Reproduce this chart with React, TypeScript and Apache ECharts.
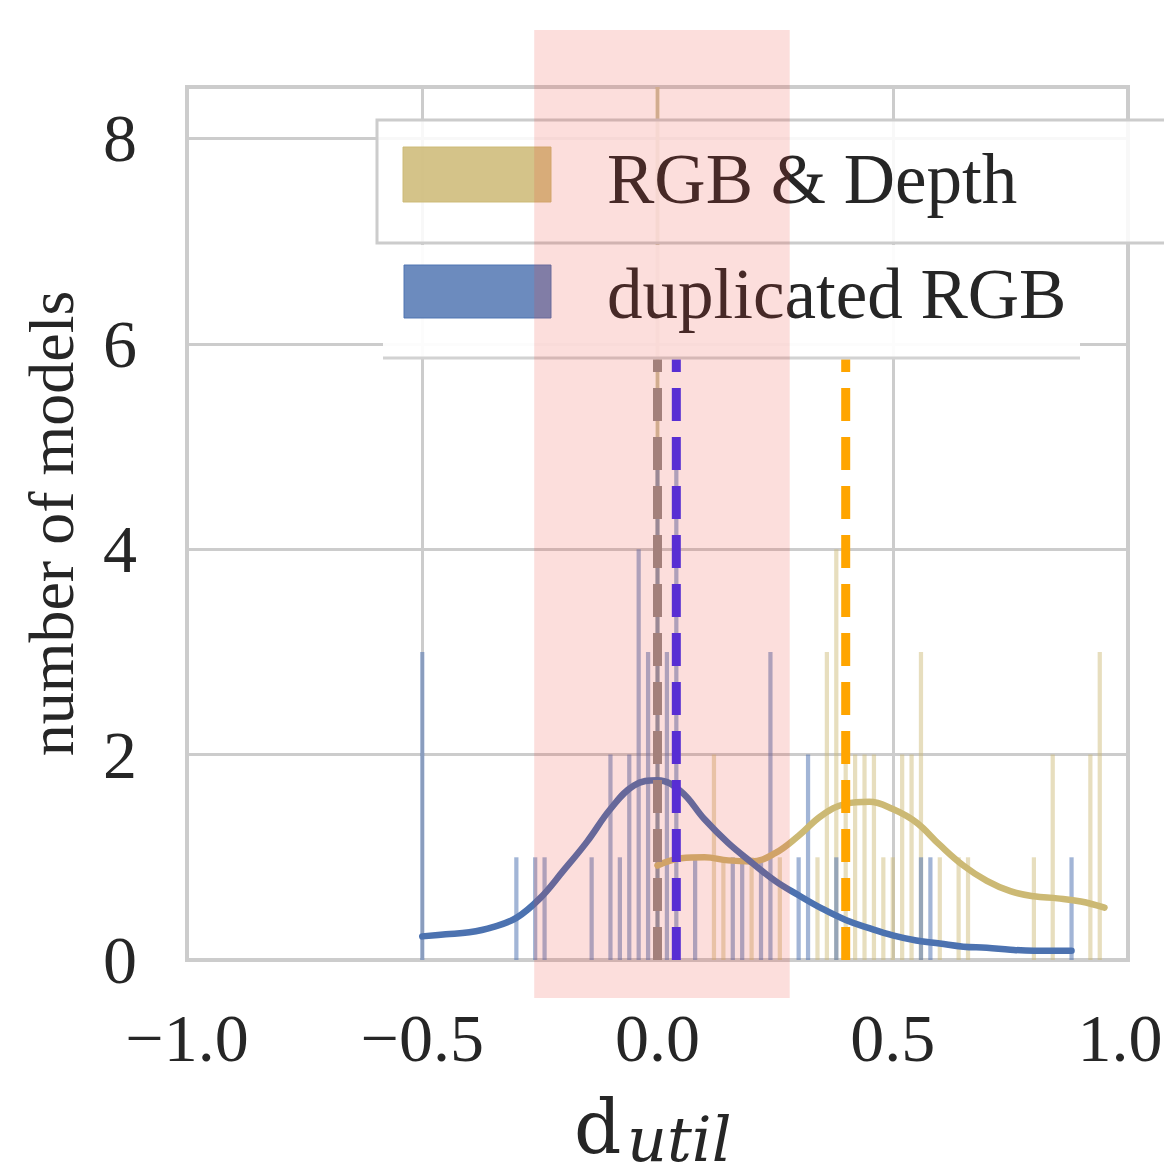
import React, { useEffect, useRef } from 'react';
import * as echarts from 'echarts';

const FONT = '"Liberation Serif", "DejaVu Serif", "Times New Roman", serif';
const MATH_FONT = '"DejaVu Serif", "Liberation Serif", serif';

// axes
const X_MIN = -1;
const X_MAX = 1;
const X_STEP = 0.5;
const Y_MIN = 0;
const Y_MAX = 8.5;
const Y_STEP = 2;

// histogram: RGB & Depth
const depthBins = [0, 0.12, 0.14, 0.2, 0.26, 0.34, 0.36, 0.38, 0.4, 0.42, 0.44, 0.46, 0.48, 0.5, 0.52, 0.54, 0.56, 0.6, 0.64, 0.66, 0.8, 0.84, 0.92, 0.94];
const depthCounts = [9, 2, 1, 1, 1, 1, 3, 4, 2, 2, 2, 2, 1, 1, 2, 2, 3, 1, 1, 1, 1, 2, 2, 3];

// histogram: duplicated RGB
const dupBins = [-0.5, -0.3, -0.26, -0.24, -0.14, -0.1, -0.08, -0.06, -0.04, -0.02, 0, 0.02, 0.04, 0.08, 0.16, 0.18, 0.22, 0.24, 0.3, 0.32, 0.38, 0.56, 0.58, 0.88];
const dupCounts = [3, 1, 1, 1, 1, 2, 1, 2, 4, 3, 5, 3, 5, 1, 1, 1, 1, 3, 1, 2, 1, 1, 1, 1];

// KDE curves
const kdeDupX = [-0.5, -0.45, -0.4, -0.35, -0.3, -0.25, -0.2, -0.15, -0.1, -0.05, 0, 0.05, 0.1, 0.15, 0.2, 0.25, 0.3, 0.35, 0.4, 0.45, 0.5, 0.55, 0.6, 0.65, 0.7, 0.75, 0.8, 0.88];
const kdeDupY = [0.23, 0.25, 0.27, 0.32, 0.41, 0.6, 0.87, 1.15, 1.47, 1.7, 1.75, 1.64, 1.37, 1.14, 0.95, 0.77, 0.63, 0.5, 0.39, 0.31, 0.24, 0.19, 0.16, 0.13, 0.12, 0.1, 0.09, 0.09];
const kdeDepthX = [0, 0.05, 0.1, 0.15, 0.2, 0.25, 0.3, 0.35, 0.4, 0.45, 0.5, 0.55, 0.6, 0.65, 0.7, 0.75, 0.8, 0.85, 0.9, 0.95];
const kdeDepthY = [0.92, 0.99, 1.0, 0.97, 0.96, 1.04, 1.21, 1.41, 1.52, 1.54, 1.47, 1.34, 1.12, 0.92, 0.77, 0.67, 0.62, 0.6, 0.57, 0.51];

// dashed reference lines
const markerX = [0.0, 0.04, 0.4];
const markerColors = ['#948e8b', '#3a2cf5', '#ffa500'];
const markerTop = 5.85;

// shaded band
const shadedRange = [-0.262, 0.281];

const legendNames = ['RGB & Depth', 'duplicated RGB'];
const BAR_WIDTH = 0.009;

const zip = (xs: number[], ys: number[]) => xs.map((x, i) => [x, ys[i]]);

export default function App() {
  const ref = useRef<HTMLDivElement>(null);

  useEffect(() => {
    const chart = echarts.init(ref.current as HTMLDivElement, null, { renderer: 'svg' });

    const barSeries = (name: string, bins: number[], counts: number[], color: string) => ({
      type: 'custom',
      name,
      clip: true,
      z: 2,
      data: zip(bins, counts),
      renderItem: (params: any, api: any) => {
        const x = api.value(0);
        const y = api.value(1);
        const a = api.coord([x - BAR_WIDTH / 2, y]);
        const b = api.coord([x + BAR_WIDTH / 2, 0]);
        return {
          type: 'rect',
          shape: { x: a[0], y: a[1], width: b[0] - a[0], height: b[1] - a[1] },
          style: { fill: color },
        };
      },
    });

    const kdeSeries = (name: string, xs: number[], ys: number[], color: string, z: number) => ({
      type: 'line',
      name,
      data: zip(xs, ys),
      smooth: 0.4,
      showSymbol: false,
      symbol: 'none',
      z,
      lineStyle: { color, width: 6.5, cap: 'round' },
    });

    const markerSeries = markerX.map((x, i) => ({
      type: 'line',
      data: [[x, 0], [x, markerTop]],
      showSymbol: false,
      symbol: 'none',
      z: 6,
      lineStyle: { color: markerColors[i], width: 9, type: [33, 16], cap: 'butt' },
    }));

    const axisLabelStyle = { fontFamily: FONT, fontSize: 68, color: '#262626' };

    chart.setOption({
      animation: false,
      backgroundColor: '#ffffff',
      grid: {
        left: 187,
        right: 36,
        top: 87,
        bottom: 214,
        show: true,
        borderColor: '#cccccc',
        borderWidth: 4,
        outerBoundsMode: 'none',
        containLabel: false,
      },
      xAxis: {
        type: 'value',
        min: X_MIN,
        max: X_MAX,
        interval: X_STEP,
        axisLine: { show: false },
        axisTick: { show: false },
        splitLine: { show: true, lineStyle: { color: '#cccccc', width: 3 } },
        axisLabel: {
          ...axisLabelStyle,
          margin: 44,
          formatter: (v: number) => {
            const s = Math.abs(v).toFixed(1);
            const t = v < 0 ? '\u2212' + s : s;
            return v >= X_MAX ? '{edge|' + t + '}' : t;
          },
          rich: {
            edge: { fontFamily: FONT, fontSize: 68, color: '#262626', padding: [0, 16, 0, 0] },
          },
        },
      },
      yAxis: {
        type: 'value',
        min: Y_MIN,
        max: Y_MAX,
        interval: Y_STEP,
        axisLine: { show: false },
        axisTick: { show: false },
        splitLine: { show: true, lineStyle: { color: '#cccccc', width: 3 } },
        axisLabel: {
          ...axisLabelStyle,
          margin: 50,
          formatter: (v: number) => (Math.abs(v % Y_STEP) < 1e-9 ? String(v) : ''),
        },
        name: 'number of models',
        nameLocation: 'middle',
        nameRotate: 90,
        nameGap: 104,
        nameTextStyle: { fontFamily: FONT, fontSize: 64, color: '#262626' },
      },
      series: [
        barSeries(legendNames[0], depthBins, depthCounts, 'rgba(204,185,116,0.47)'),
        barSeries(legendNames[1], dupBins, dupCounts, 'rgba(76,114,176,0.52)'),
        kdeSeries(legendNames[0] + ' kde', kdeDepthX, kdeDepthY, '#ccb974', 4),
        kdeSeries(legendNames[1] + ' kde', kdeDupX, kdeDupY, '#4c72b0', 5),
        ...markerSeries,
      ],
    });

    const px0 = chart.convertToPixel({ xAxisIndex: 0 }, shadedRange[0]) as number;
    const px1 = chart.convertToPixel({ xAxisIndex: 0 }, shadedRange[1]) as number;

    chart.setOption({
      graphic: [
        {
          type: 'rect', z: 50,
          shape: { x: 377, y: 120, width: 800, height: 123 },
          style: { fill: 'rgba(255,255,255,0.86)', stroke: '#cccccc', lineWidth: 3 },
        },
        {
          type: 'rect', z: 51,
          shape: { x: 383, y: 245, width: 697, height: 114 },
          style: { fill: 'rgba(255,255,255,0.93)' },
        },
        {
          type: 'line', z: 52,
          shape: { x1: 383, y1: 358, x2: 1080, y2: 358 },
          style: { stroke: '#d2d2d2', lineWidth: 3 },
        },
        {
          type: 'rect', z: 53,
          shape: { x: 403, y: 147, width: 148, height: 55 },
          style: { fill: 'rgba(204,185,116,0.85)', stroke: 'rgba(204,185,116,0.95)', lineWidth: 1 },
        },
        {
          type: 'rect', z: 53,
          shape: { x: 404, y: 265, width: 147, height: 53 },
          style: { fill: 'rgba(76,114,176,0.82)', stroke: 'rgba(76,114,176,0.95)', lineWidth: 1 },
        },
        {
          type: 'text', z: 53, x: 607, y: 179,
          style: { text: legendNames[0], fontFamily: FONT, fontSize: 71, fill: '#262626', align: 'left', verticalAlign: 'middle' },
        },
        {
          type: 'text', z: 53, x: 607, y: 294,
          style: { text: legendNames[1], fontFamily: FONT, fontSize: 71, fill: '#262626', align: 'left', verticalAlign: 'middle' },
        },
        {
          type: 'text', z: 53, x: 574, y: 1127,
          style: { text: 'd', fontFamily: MATH_FONT, fontSize: 74, fill: '#262626', align: 'left', verticalAlign: 'middle' },
        },
        {
          type: 'text', z: 53, x: 627, y: 1139,
          style: { text: 'util', fontFamily: MATH_FONT, fontSize: 62, fontStyle: 'italic', fill: '#262626', align: 'left', verticalAlign: 'middle' },
        },
        {
          type: 'rect', z: 100,
          shape: { x: px0, y: 30, width: px1 - px0, height: 968 },
          style: { fill: 'rgba(240,60,50,0.17)' },
        },
      ],
    });

    return () => {
      chart.dispose();
    };
  }, []);

  return (
    <div
      ref={ref}
      style={{ position: 'absolute', left: 0, top: 0, width: 1164, height: 1174, background: '#fff' }}
    />
  );
}
